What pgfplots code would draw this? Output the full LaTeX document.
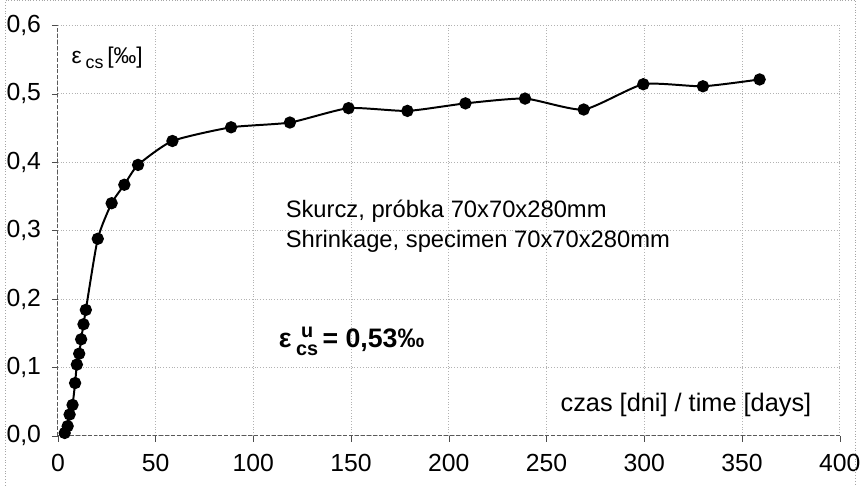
\documentclass[border=0pt]{standalone}
\usepackage{pgfplots}
\pgfplotsset{compat=1.18}
\usepackage{fontspec}
\setmainfont{Liberation Sans}

\begin{document}
\begin{tikzpicture}
\begin{axis}[
  scale only axis,
  width=393.5bp, height=206.5bp,
  xmin=0, xmax=400, ymin=0, ymax=0.6,
  xtick={0,50,...,400},
  ytick={0,0.1,0.2,0.3,0.4,0.5,0.6},
  axis lines*=left,
  axis line style={black!65, dash pattern=on 2pt off 1pt},
  grid=major,
  major grid style={densely dotted, black!30},
  tick align=outside,
  major tick length=3pt,
  tick style={black!70},
  ticklabel style={font=\fontsize{12.5}{14}\selectfont},
  xticklabel style={yshift=-3pt},
  yticklabel style={xshift=-2pt, /pgf/number format/.cd, fixed, fixed zerofill, precision=1, use comma},
  /pgf/number format/assume math mode=true,
  clip=false,
]
\addplot[black, line width=1pt, smooth, tension=0.35, mark=*, mark size=2.6pt,
  mark options={solid, fill=black}] coordinates {
  (3.5,0.004) (5,0.014) (6,0.031) (7.5,0.045) (8.8,0.077) (9.7,0.104)
  (10.9,0.120) (11.9,0.141) (13.1,0.163) (14.3,0.184)
  (20.4,0.288) (27.5,0.340) (34,0.367) (41,0.396) (58.6,0.431)
  (88.6,0.451) (118.7,0.458) (148.7,0.479) (178.8,0.475) (208.5,0.486)
  (239,0.493) (269,0.477) (299.5,0.514) (330,0.511) (359,0.521)
};
\node[anchor=west, font=\fontsize{11.5}{13}\selectfont] at (axis cs:3.5,0.553)
  {ε\,\raisebox{-2.5pt}{\fontsize{9}{9}\selectfont cs}\,[‰]};
\node[anchor=west, font=\fontsize{12}{14}\selectfont, align=left] at (axis cs:113,0.306)
  {Skurcz, próbka 70x70x280mm\\[1pt]Shrinkage, specimen 70x70x280mm};
\node[anchor=west, font=\bfseries\fontsize{13.5}{15}\selectfont] at (axis cs:109.5,0.136)
  {ε\,\raisebox{-4pt}{\fontsize{10}{10}\selectfont\begin{tabular}[b]{@{}c@{}}u\\[-1pt]cs\end{tabular}}\,= 0,53‰};
\node[anchor=east, font=\fontsize{12.8}{14}\selectfont] at (axis cs:389,0.045)
  {czas [dni] / time [days]};
\draw[densely dotted, black!35]
  (rel axis cs:-0.067,-0.121) -- (rel axis cs:-0.067,1.061)
  -- (rel axis cs:1.020,1.061) -- (rel axis cs:1.020,-0.121);
\end{axis}
\end{tikzpicture}
\end{document}
